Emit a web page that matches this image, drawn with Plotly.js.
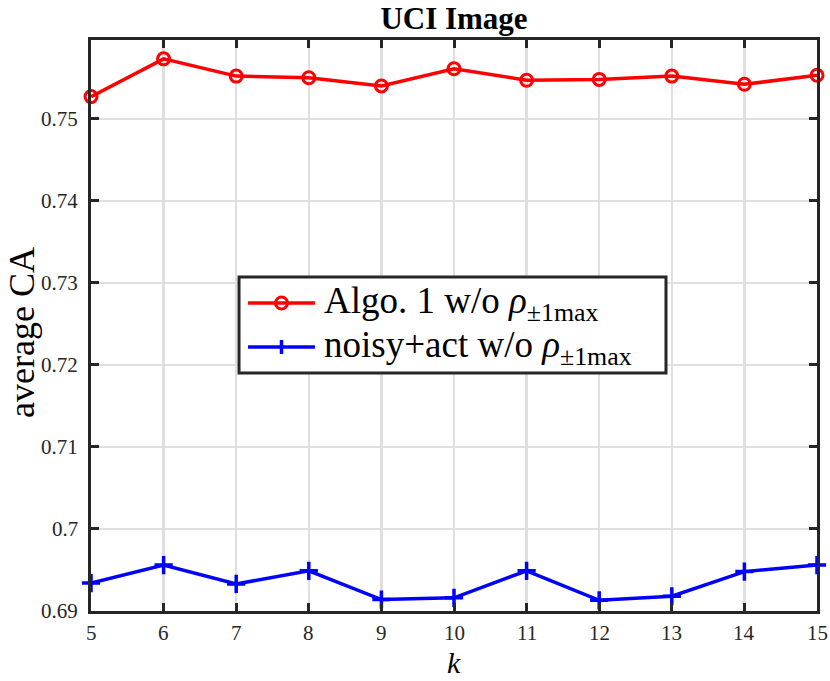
<!DOCTYPE html>
<html>
<head>
<meta charset="utf-8">
<script src="https://cdn.plot.ly/plotly-3.0.1.min.js"></script>
<style>html,body{margin:0;padding:0;background:#fff;}#chart{width:830px;height:681px;}</style>
</head>
<body>
<div id="chart"></div>
<script>
const kValues = [5, 6, 7, 8, 9, 10, 11, 12, 13, 14, 15];
const algoValues = [0.7527, 0.7573, 0.7552, 0.7550, 0.7540, 0.7561, 0.7547, 0.7548, 0.7552, 0.7542, 0.7553];
const noisyValues = [0.6934, 0.6956, 0.6933, 0.6949, 0.6914, 0.6916, 0.6949, 0.6913, 0.6918, 0.6948, 0.6956];
const yTicks = [0.69, 0.70, 0.71, 0.72, 0.73, 0.74, 0.75];
const yTickLabels = ['0.69', '0.7', '0.71', '0.72', '0.73', '0.74', '0.75'];
const xTickLabels = ['5', '6', '7', '8', '9', '10', '11', '12', '13', '14', '15'];
const seriesNames = ['Algo. 1 w/o <i>ρ</i><sub>±1max</sub>', 'noisy+act w/o <i>ρ</i><sub>±1max</sub>'];
const seriesColors = ['#ff0000', '#0000ff'];

const serif = 'Liberation Serif';
const axisColor = '#262626';

const traces = [
  {
    x: kValues, y: algoValues, name: seriesNames[0], type: 'scatter', mode: 'lines+markers',
    line: {color: seriesColors[0], width: 3.5},
    marker: {symbol: 'circle-open', size: 12, color: seriesColors[0], line: {color: seriesColors[0], width: 3}},
    cliponaxis: false, showlegend: false
  },
  {
    x: kValues, y: noisyValues, name: seriesNames[1], type: 'scatter', mode: 'lines+markers',
    line: {color: seriesColors[1], width: 3.5},
    marker: {symbol: 'cross-thin-open', size: 13, color: seriesColors[1], line: {color: seriesColors[1], width: 3.5}},
    cliponaxis: false, showlegend: false
  }
];

// Legend drawn as a box (layout only)
const lg = {x0: 0.2039, x1: 0.792, y0: 0.4168, y1: 0.585, lx0: 0.2163, lx1: 0.3085, lxm: 0.2624, tx: 0.3182, rows: [0.5394, 0.4623]};
const shapes = [
  {type: 'rect', xref: 'paper', yref: 'paper', x0: lg.x0, x1: lg.x1, y0: lg.y0, y1: lg.y1,
   fillcolor: '#ffffff', line: {color: axisColor, width: 3}, layer: 'above'}
];
const annotations = [];
seriesNames.forEach((nm, i) => {
  const yr = lg.rows[i];
  shapes.push({type: 'line', xref: 'paper', yref: 'paper', x0: lg.lx0, x1: lg.lx1, y0: yr, y1: yr,
    line: {color: seriesColors[i], width: 3.5}, layer: 'above'});
  if (i === 0) {
    shapes.push({type: 'circle', xref: 'paper', yref: 'paper', xsizemode: 'pixel', ysizemode: 'pixel',
      xanchor: lg.lxm, yanchor: yr, x0: -6, x1: 6, y0: -6, y1: 6,
      line: {color: seriesColors[i], width: 3}, layer: 'above'});
  } else {
    shapes.push({type: 'line', xref: 'paper', yref: 'paper', xsizemode: 'pixel', ysizemode: 'pixel',
      xanchor: lg.lxm, yanchor: yr, x0: 0, x1: 0, y0: -7, y1: 7,
      line: {color: seriesColors[i], width: 3.5}, layer: 'above'});
  }
  annotations.push({xref: 'paper', yref: 'paper', x: lg.tx, y: yr, xanchor: 'left', yanchor: 'middle',
    text: nm, showarrow: false, font: {family: serif, size: 37, color: '#000'}});
});

const tickFont = {family: serif, size: 21, color: '#262626'};

// tick labels placed through the axis scales
kValues.forEach((k, i) => {
  annotations.push({xref: 'x', yref: 'paper', x: k, y: -0.0385, xanchor: 'center', yanchor: 'middle',
    text: xTickLabels[i], showarrow: false, font: tickFont});
});
yTicks.forEach((v, i) => {
  annotations.push({xref: 'paper', yref: 'y', x: -0.0152, y: v, xanchor: 'right', yanchor: 'middle',
    text: yTickLabels[i], showarrow: false, font: tickFont});
});

// axis labels
annotations.push({xref: 'paper', yref: 'paper', x: -0.1253, y: 0.487, xanchor: 'left', yanchor: 'middle',
  textangle: -90, text: 'average CA', showarrow: false, font: {family: serif, size: 36, color: '#000'}});
annotations.push({xref: 'paper', yref: 'paper', x: 0.5, y: -0.1226, xanchor: 'center', yanchor: 'bottom',
  text: '<i>k</i>', showarrow: false, font: {family: serif, size: 30, color: '#000'}});

const layout = {
  width: 830, height: 681,
  font: tickFont,
  margin: {l: 91, r: 13, t: 40, b: 70},
  paper_bgcolor: '#ffffff', plot_bgcolor: '#ffffff',
  title: {text: '<b>UCI Image</b>', font: {family: serif, size: 31, color: '#000'},
          xref: 'paper', x: 0.5, xanchor: 'center', yref: 'container', y: 0.99, yanchor: 'top'},
  xaxis: {
    range: [5, 15], tickvals: kValues, showticklabels: false,
    showgrid: true, gridcolor: '#dfdfdf', gridwidth: 2.5,
    showline: true, linecolor: axisColor, linewidth: 3, mirror: 'ticks',
    ticks: 'inside', ticklen: 8, tickwidth: 3, tickcolor: axisColor,
    zeroline: false
  },
  yaxis: {
    range: [0.69, 0.7596], tickvals: yTicks, showticklabels: false,
    showgrid: true, gridcolor: '#dfdfdf', gridwidth: 2.5,
    showline: true, linecolor: axisColor, linewidth: 3, mirror: 'ticks',
    ticks: 'inside', ticklen: 8, tickwidth: 3, tickcolor: axisColor,
    zeroline: false
  },
  showlegend: false,
  shapes: shapes,
  annotations: annotations
};

Plotly.newPlot('chart', traces, layout, {displayModeBar: false, staticPlot: true});
</script>
</body>
</html>
